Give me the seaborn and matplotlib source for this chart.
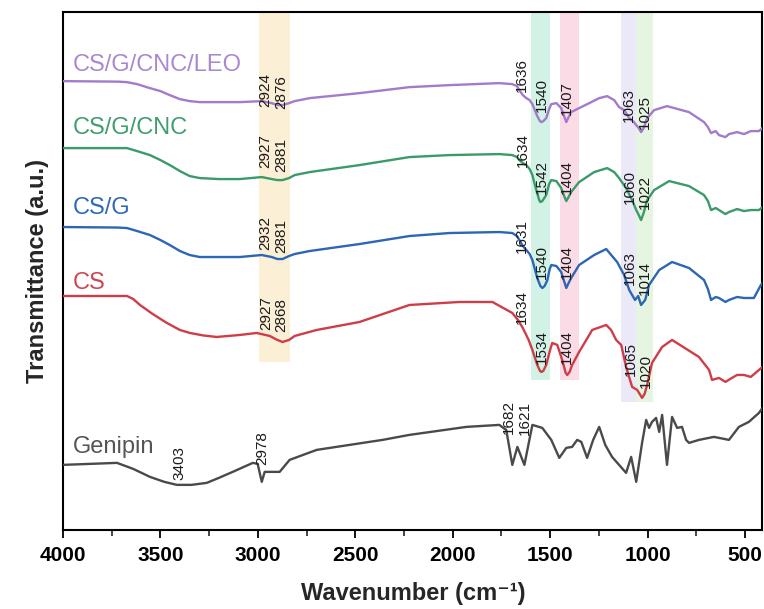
"""
FTIR spectra of genipin, CS, CS/G, CS/G/CNC and CS/G/CNC/LEO films,
stacked with offsets and with the main absorption bands shaded.
"""

import matplotlib

matplotlib.use("Agg")
import matplotlib.pyplot as plt
import numpy as np
import pandas as pd
import seaborn as sns
from matplotlib.ticker import MultipleLocator

# Figure settings
FIG_DPI = 100
sns.set_theme(style="white")
plt.rcParams["font.family"] = ["Liberation Sans", "DejaVu Sans"]

# Spectra (wavenumber in cm-1, transmittance in a.u. with offset)
LEO_WN = [4000, 3720, 3672, 3620, 3554, 3500, 3452, 3400, 3350, 3298, 3200, 3093, 2980,
          2929, 2900, 2873, 2840, 2811, 2734, 2478, 2222, 2017, 1761, 1694, 1670, 1658,
          1640, 1622, 1605, 1591, 1566, 1552, 1545, 1535, 1520, 1505, 1494, 1468, 1443,
          1430, 1417, 1405, 1392, 1351, 1299, 1248, 1207, 1171, 1146, 1120, 1094, 1070,
          1058, 1045, 1033, 1020, 1002, 966, 900, 787, 710, 690, 674, 650, 633, 600, 582,
          540, 505, 470, 428, 410]
LEO_T = [89.8, 89.7, 89.6, 89.2, 88.4, 87.8, 87.0, 86.2, 85.8, 85.6, 85.6, 85.6, 85.8,
         85.4, 85.0, 85.0, 85.4, 85.8, 86.4, 87.4, 88.6, 89.0, 89.4, 89.2, 88.8, 88.0,
         87.0, 86.4, 86.0, 85.2, 82.8, 81.8, 81.6, 81.8, 82.4, 84.2, 85.2, 85.4, 84.4,
         83.0, 81.6, 82.6, 83.6, 84.4, 85.4, 86.4, 86.8, 86.0, 84.6, 84.0, 82.4, 81.6,
         81.0, 80.4, 79.6, 80.4, 82.4, 84.0, 84.8, 83.6, 81.6, 80.6, 79.4, 79.8, 79.0,
         78.6, 79.2, 79.6, 79.2, 79.8, 79.8, 80.4]

CNC_WN = [4000, 3720, 3672, 3620, 3554, 3500, 3452, 3400, 3350, 3298, 3200, 3093, 2980,
          2929, 2900, 2873, 2840, 2811, 2734, 2478, 2222, 2017, 1761, 1694, 1670, 1658,
          1640, 1622, 1605, 1591, 1571, 1556, 1550, 1540, 1520, 1505, 1494, 1468, 1443,
          1430, 1417, 1405, 1392, 1351, 1274, 1207, 1171, 1146, 1110, 1079, 1058, 1045,
          1033, 1020, 1002, 966, 889, 787, 710, 690, 674, 650, 633, 600, 582, 540, 505,
          470, 428, 410]
CNC_T = [76.4, 76.4, 76.4, 75.8, 75.0, 74.0, 73.0, 71.8, 70.8, 70.4, 70.2, 70.2, 70.6,
         70.2, 70.0, 70.0, 70.4, 71.0, 71.6, 73.0, 74.6, 75.0, 75.2, 75.0, 74.6, 74.0,
         73.4, 73.0, 72.2, 71.0, 68.0, 66.0, 65.6, 65.8, 67.0, 69.2, 70.0, 69.8, 68.4,
         67.0, 65.8, 66.6, 67.6, 69.6, 71.6, 72.4, 71.6, 70.4, 68.4, 66.0, 64.0, 63.0,
         62.0, 63.4, 66.0, 68.0, 69.8, 68.8, 67.0, 65.8, 64.0, 64.4, 64.0, 63.2, 63.6,
         64.2, 63.8, 64.0, 64.0, 64.6]

CSG_WN = [4000, 3720, 3672, 3620, 3554, 3500, 3452, 3400, 3350, 3298, 3200, 3093, 2980,
          2929, 2900, 2873, 2840, 2811, 2734, 2478, 2222, 2017, 1761, 1694, 1670, 1658,
          1640, 1622, 1605, 1591, 1566, 1550, 1540, 1528, 1514, 1502, 1494, 1468, 1443,
          1430, 1417, 1405, 1392, 1351, 1274, 1212, 1182, 1156, 1120, 1094, 1064, 1048,
          1033, 1012, 992, 940, 874, 787, 710, 690, 674, 650, 633, 600, 582, 540, 505,
          454, 418, 410]
CSG_T = [60.6, 60.5, 60.4, 59.8, 59.0, 58.0, 57.0, 55.8, 55.0, 54.6, 54.6, 54.6, 55.0,
         54.6, 54.2, 54.2, 54.8, 55.2, 55.8, 57.2, 58.8, 59.4, 59.6, 59.4, 58.8, 58.0,
         56.8, 56.0, 55.2, 54.0, 50.4, 48.8, 48.4, 48.8, 50.0, 52.2, 53.0, 52.8, 51.6,
         50.0, 48.4, 49.4, 50.4, 53.0, 55.0, 56.2, 54.8, 53.6, 51.0, 48.0, 46.0, 46.8,
         45.0, 46.0, 49.0, 52.0, 53.6, 52.4, 50.0, 48.2, 46.0, 46.6, 46.4, 45.6, 46.0,
         46.6, 46.4, 46.4, 49.0, 49.4]

CS_WN = [4000, 3672, 3640, 3605, 3540, 3467, 3400, 3349, 3280, 3211, 3093, 3006, 2939,
         2900, 2873, 2840, 2811, 2698, 2478, 2222, 1966, 1796, 1694, 1665, 1643, 1610,
         1591, 1566, 1552, 1545, 1535, 1520, 1500, 1489, 1463, 1438, 1420, 1412, 1400,
         1387, 1351, 1284, 1212, 1187, 1161, 1135, 1110, 1079, 1053, 1028, 1015, 1002,
         977, 925, 874, 736, 684, 669, 633, 600, 567, 540, 505, 470, 428, 410]
CS_T = [46.8, 46.8, 46.2, 45.0, 43.2, 41.4, 40.0, 39.4, 38.9, 38.6, 39.0, 39.4, 38.8,
        38.0, 37.6, 38.0, 38.8, 40.0, 41.6, 45.0, 45.6, 45.6, 43.4, 42.0, 40.6, 38.0,
        36.0, 33.0, 31.8, 31.6, 31.8, 33.0, 36.0, 37.4, 37.0, 34.0, 31.4, 31.0, 31.6,
        33.0, 35.6, 40.0, 41.0, 40.0, 38.0, 37.0, 32.6, 28.6, 28.0, 26.4, 27.2, 29.0,
        33.4, 36.6, 38.0, 34.6, 32.0, 30.0, 30.4, 29.6, 30.4, 31.0, 31.0, 30.6, 32.0, 32.6]

GEN_WN = [4000, 3723, 3640, 3554, 3480, 3416, 3340, 3262, 3200, 3129, 3026, 3001, 2980,
          2965, 2939, 2888, 2837, 2698, 2360, 2222, 1930, 1761, 1725, 1694, 1668, 1632,
          1591, 1540, 1494, 1453, 1417, 1387, 1361, 1340, 1310, 1279, 1248, 1217, 1182,
          1146, 1110, 1084, 1058, 1028, 1007, 992, 977, 956, 940, 925, 900, 874, 848, 823,
          802, 787, 736, 659, 582, 531, 480, 428, 410]
GEN_T = [13.0, 13.4, 12.2, 10.6, 9.6, 9.0, 9.0, 9.4, 10.4, 11.6, 13.4, 13.2, 9.6,
         11.6, 11.6, 11.6, 14.0, 16.0, 18.0, 19.0, 20.6, 21.0, 20.0, 13.0, 16.6, 13.0,
         21.0, 20.4, 18.0, 14.4, 16.4, 16.6, 18.0, 17.6, 14.4, 18.0, 20.6, 17.0, 14.6,
         13.0, 11.4, 14.6, 9.6, 17.4, 22.0, 20.4, 21.6, 22.4, 19.6, 23.0, 13.0, 22.6,
         20.4, 20.6, 18.0, 17.4, 18.0, 18.6, 18.0, 20.6, 21.6, 23.4, 24.4]

SAMPLES = ["CS/G/CNC/LEO", "CS/G/CNC", "CS/G", "CS", "Genipin"]
SPECTRA = [(LEO_WN, LEO_T), (CNC_WN, CNC_T), (CSG_WN, CSG_T), (CS_WN, CS_T), (GEN_WN, GEN_T)]
COLORS = ["#a27bcb", "#3b9a69", "#2c66b4", "#cf3d48", "#4a4a4a"]
TEXT_COLORS = ["#a988d0", "#3f9e70", "#2f69b6", "#cf4550", "#555555"]
NAME_Y = [93.0, 80.4, 64.4, 49.4, 16.6]

# Peak labels: (text, label x, label center y)
PEAKS = [
    [("2924", 2960, 88.0), ("2876", 2880, 87.6), ("1636", 1645, 91.0),
     ("1540", 1542, 87.0), ("1407", 1414, 86.4), ("1063", 1094, 85.0), ("1025", 1012, 83.6)],
    [("2927", 2960, 75.8), ("2881", 2880, 75.0), ("1634", 1642, 76.0),
     ("1542", 1542, 70.6), ("1404", 1416, 70.6), ("1060", 1092, 68.6), ("1022", 1012, 67.6)],
    [("2932", 2960, 59.4), ("2881", 2880, 58.8), ("1631", 1645, 58.8),
     ("1540", 1542, 53.6), ("1404", 1416, 53.6), ("1063", 1092, 52.4), ("1014", 1012, 50.4)],
    [("2927", 2958, 43.4), ("2868", 2880, 43.0), ("1634", 1645, 44.6),
     ("1534", 1542, 36.6), ("1404", 1416, 36.6), ("1065", 1088, 34.2), ("1020", 1010, 31.8)],
    [("3403", 3400, 13.4), ("2978", 2975, 16.4), ("1682", 1712, 22.6), ("1621", 1627, 22.4)],
]

# Shaded bands: (high wn, low wn, top of band, colour)
BANDS = [
    (2995, 2837, 33.6, "#fbf0d6"),
    (1596, 1499, 30.0, "#d2f2e6"),
    (1447, 1350, 30.0, "#fbdce6"),
    (1135, 1058, 25.6, "#ebe9f8"),
    (1058, 971, 25.6, "#e6f4e2"),
]

YMAX = 103.6


def main():
    fig = plt.figure(figsize=(7.64, 6.09), dpi=FIG_DPI)
    ax = fig.add_axes([0.0825, 0.130, 0.9155, 0.850])

    # Shaded bands
    for hi, lo, top, color in BANDS:
        ax.fill_between([lo, hi], top, YMAX, color=color, linewidth=0, zorder=0)

    # Spectra
    for name, (wn, t), color in zip(SAMPLES, SPECTRA, COLORS):
        df = pd.DataFrame({"wn": wn, "t": t})
        sns.lineplot(data=df, x="wn", y="t", sort=False, color=color, linewidth=1.7,
                     ax=ax, zorder=3)

    # Sample names
    for name, y, color in zip(SAMPLES, NAME_Y, TEXT_COLORS):
        ax.text(3950, y, name, color=color, fontsize=17, ha="left", va="center", zorder=4)

    # Peak labels
    for peaks in PEAKS:
        for text, x, y in peaks:
            ax.text(x, y, text, rotation=90, fontsize=11, ha="center", va="center",
                    color="#1a1a1a", zorder=4)

    ax.set_xlim(4000, 410)
    ax.set_ylim(0, YMAX)
    ax.xaxis.set_major_locator(MultipleLocator(500))
    ax.xaxis.set_minor_locator(MultipleLocator(250))
    ax.tick_params(axis="x", which="major", direction="out", length=6, width=1.3,
                   bottom=True, labelsize=15, pad=6, colors="black")
    ax.tick_params(axis="x", which="minor", direction="out", length=4, width=1.2,
                   bottom=True)
    ax.set_yticks([])
    for lbl in ax.get_xticklabels():
        lbl.set_fontweight("bold")

    for spine in ax.spines.values():
        spine.set_color("black")
        spine.set_linewidth(1.5)

    ax.set_xlabel("Wavenumber (cm\u207b\u00b9)", fontsize=17, fontweight="bold", labelpad=12)
    ax.set_ylabel("Transmittance (a.u.)", fontsize=17, fontweight="bold", labelpad=10)

    fig.savefig("out.png", dpi=FIG_DPI)
    plt.close(fig)


if __name__ == "__main__":
    main()
